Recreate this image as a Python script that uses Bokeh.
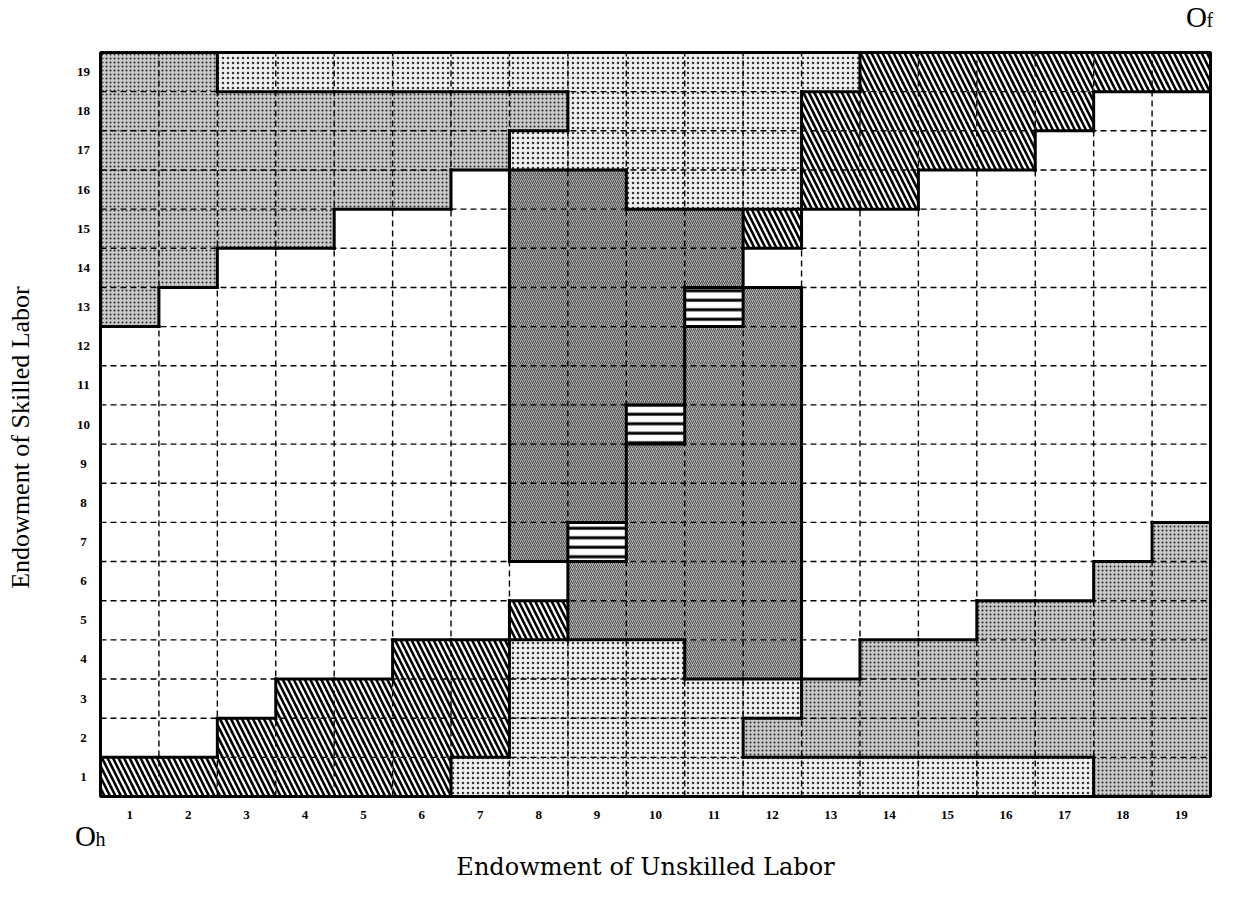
import math
from bokeh.plotting import figure
from bokeh.models import ColumnDataSource
from bokeh.core.properties import value
from bokeh.embed import file_html
from bokeh.resources import INLINE

# ---- data -------------------------------------------------------------
unskilled = list(range(1, 20))          # columns (Endowment of Unskilled Labor)
skilled = list(range(1, 20))            # rows (Endowment of Skilled Labor)
x_tick_labels = [str(v) for v in unskilled]
y_tick_labels = [str(v) for v in skilled]
x_title = "Endowment of Unskilled Labor"
y_title = "Endowment of Skilled Labor"
origin_home = ("O", "h")
origin_foreign = ("O", "f")

# region code of every cell, one string per skilled-labor row (row 1 first),
# character k = unskilled-labor column k+1
# W white, L light stipple, M medium stipple, D dark stipple (upper block),
# E dark stipple (lower block), H diagonal hatch, S horizontal stripes
row_01 = "HHHHHHLLLLLLLLLLLMM"
row_02 = "WWHHHHHLLLLMMMMMMMM"
row_03 = "WWWHHHHLLLLLMMMMMMM"
row_04 = "WWWWWHHLLLEEWMMMMMM"
row_05 = "WWWWWWWHEEEEWWWMMMM"
row_06 = "WWWWWWWWEEEEWWWWWMM"
row_07 = "WWWWWWWDSEEEWWWWWWM"
row_08 = "WWWWWWWDDEEEWWWWWWW"
row_09 = "WWWWWWWDDEEEWWWWWWW"
row_10 = "WWWWWWWDDSEEWWWWWWW"
row_11 = "WWWWWWWDDDEEWWWWWWW"
row_12 = "WWWWWWWDDDEEWWWWWWW"
row_13 = "MWWWWWWDDDSEWWWWWWW"
row_14 = "MMWWWWWDDDDWWWWWWWW"
row_15 = "MMMMWWWDDDDHWWWWWWW"
row_16 = "MMMMMMWDDLLLHHWWWWW"
row_17 = "MMMMMMMLLLLLHHHHWWW"
row_18 = "MMMMMMMMLLLLHHHHHWW"
row_19 = "MMLLLLLLLLLLLHHHHHH"

cell_rows = [row_01, row_02, row_03, row_04, row_05, row_06, row_07, row_08,
             row_09, row_10, row_11, row_12, row_13, row_14, row_15, row_16,
             row_17, row_18, row_19]

# ---- layout (pixels on the canvas) -------------------------------------
W, Hgt = 1227, 887
GRID_L, GRID_R = 100, 1210
GRID_T, GRID_B = 52, 796
ncol, nrow = len(unskilled), len(skilled)
px_x = (GRID_R - GRID_L) / ncol
px_y = (GRID_B - GRID_T) / nrow
x_lo = unskilled[0] - 0.5
x_hi = unskilled[-1] + 0.5
y_lo = skilled[0] - 0.5
y_hi = skilled[-1] + 0.5
xr = (x_lo - GRID_L / px_x, x_hi + (W - GRID_R) / px_x)
yr = (y_lo - (Hgt - GRID_B) / px_y, y_hi + GRID_T / px_y)

def cx(px):   # canvas x pixel -> data
    return x_lo + (px - GRID_L) / px_x

def cy(py):   # canvas y pixel -> data
    return y_lo + (GRID_B - py) / px_y

# ---- styles -------------------------------------------------------------
styles = {
    "W": dict(fill_color="white"),
    "L": dict(fill_color="#efefef", hatch_pattern="dot", hatch_scale=5,
              hatch_weight=1.2, hatch_color="#333333"),
    "M": dict(fill_color="#c9c9c9", hatch_pattern="dot", hatch_scale=4,
              hatch_weight=1.2, hatch_color="#222222"),
    "D": dict(fill_color="#b0b0b0", hatch_pattern="/", hatch_scale=4,
              hatch_weight=1.0, hatch_color="#474747"),
    "E": dict(fill_color="#b8b8b8", hatch_pattern="/", hatch_scale=4,
              hatch_weight=1.0, hatch_color="#4c4c4c"),
    "H": dict(fill_color="white", hatch_pattern="\\", hatch_scale=11,
              hatch_weight=2.6, hatch_color="black"),
    "S": dict(fill_color="white", hatch_pattern="-", hatch_scale=9.5,
              hatch_weight=3, hatch_color="black"),
}

p = figure(width=W, height=Hgt, output_backend="svg", toolbar_location=None,
           x_range=xr, y_range=yr, title=None,
           x_axis_location=None, y_axis_location=None,
           min_border=0, min_border_left=0, min_border_right=0,
           min_border_top=0, min_border_bottom=0)
p.background_fill_color = "white"
p.border_fill_color = "white"
p.outline_line_color = None
p.xgrid.visible = False
p.ygrid.visible = False

for code, st in styles.items():
    xs, ys = [], []
    for r, row in enumerate(cell_rows):
        for c, ch in enumerate(row):
            if ch == code:
                xs.append(unskilled[c])
                ys.append(skilled[r])
    if not xs:
        continue
    src = ColumnDataSource(dict(x=xs, y=ys))
    p.rect(x="x", y="y", width=1, height=1, source=src, line_color=None, **st)

# dashed cell grid
vx = [v + 0.5 for v in unskilled[:-1]]
hy = [v + 0.5 for v in skilled[:-1]]
p.segment(x0=vx, y0=[y_lo] * len(vx), x1=vx, y1=[y_hi] * len(vx),
          line_color="black", line_width=1.4, line_dash="6 4")
p.segment(x0=[x_lo] * len(hy), y0=hy, x1=[x_hi] * len(hy), y1=hy,
          line_color="black", line_width=1.4, line_dash="6 4")

# thick borders between cells of different regions
x0, y0, x1, y1 = [], [], [], []
for r in range(nrow):
    for c in range(ncol):
        ch = cell_rows[r][c]
        xc, yc = unskilled[c], skilled[r]
        if c < ncol - 1 and cell_rows[r][c + 1] != ch:
            x0.append(xc + 0.5); x1.append(xc + 0.5)
            y0.append(yc - 0.5); y1.append(yc + 0.5)
        if r < nrow - 1 and cell_rows[r + 1][c] != ch:
            x0.append(xc - 0.5); x1.append(xc + 0.5)
            y0.append(yc + 0.5); y1.append(yc + 0.5)
p.segment(x0=x0, y0=y0, x1=x1, y1=y1, line_color="black", line_width=3,
          line_cap="square")

# outer frame
p.quad(left=[x_lo], right=[x_hi], bottom=[y_lo], top=[y_hi],
       fill_color=None, line_color="black", line_width=3)

serif = value("Liberation Serif")

# tick labels
p.text(x=unskilled, y=[cy(GRID_B + 18)] * ncol, text=x_tick_labels,
       text_font=serif, text_font_style="bold", text_font_size="13px",
       text_align="center", text_baseline="middle", text_color="black")
p.text(x=[cx(GRID_L - 17)] * nrow, y=skilled, text=y_tick_labels,
       text_font=serif, text_font_style="bold", text_font_size="13px",
       text_align="center", text_baseline="middle", text_color="black")

# axis titles
p.text(x=[cx(645)], y=[cy(866)], text=[x_title], text_font=value("DejaVu Serif"),
       text_font_size="24px", text_align="center", text_baseline="middle",
       text_color="black")
p.text(x=[cx(20)], y=[cy(437)], text=[y_title], text_font=serif,
       text_font_size="26px", text_align="center", text_baseline="middle",
       angle=math.pi / 2, text_color="black")

# origins
def origin(px, py, pair):
    big, sub = pair
    p.text(x=[cx(px)], y=[cy(py)], text=[big], text_font=serif,
           text_font_size="29px", text_align="center", text_baseline="middle",
           text_color="black")
    p.text(x=[cx(px + 10)], y=[cy(py + 3)], text=[sub], text_font=serif,
           text_font_size="20px", text_align="left", text_baseline="middle",
           text_color="black")

origin(85, 835, origin_home)
origin(1196, 16, origin_foreign)

open("out.html", "w").write(file_html(p, INLINE))
